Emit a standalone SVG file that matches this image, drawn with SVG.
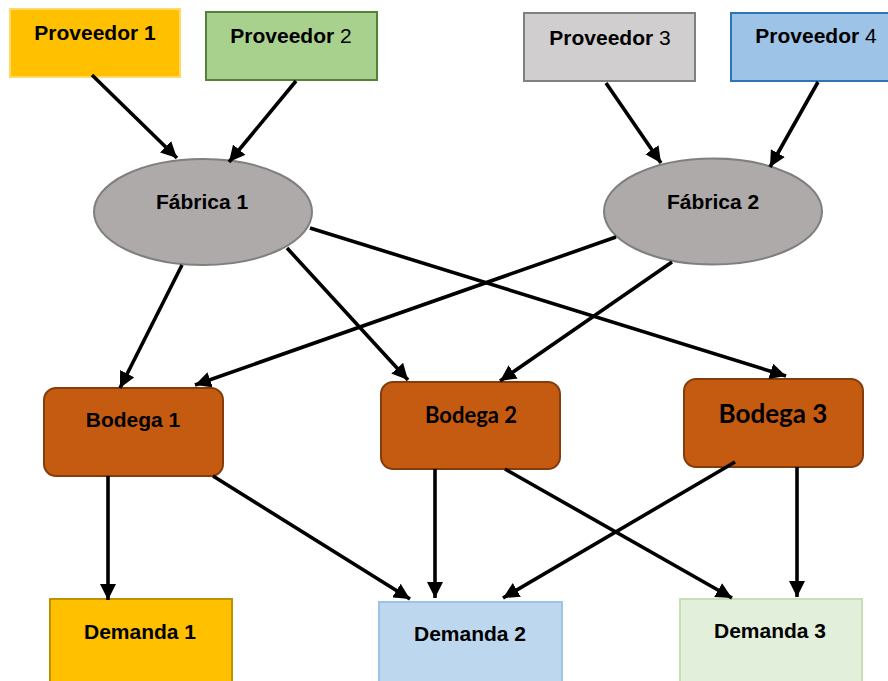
<svg xmlns="http://www.w3.org/2000/svg" width="888" height="681" viewBox="0 0 888 681">
<defs>
<marker id="ah" markerUnits="userSpaceOnUse" markerWidth="18" markerHeight="16" refX="16" refY="8" orient="auto">
<path d="M0,0 L16,8 L0,16 Z" fill="#000"/>
</marker>
<style>
.t{font-family:"Liberation Sans",Arial,sans-serif;font-weight:bold;font-size:21px;fill:#000;text-anchor:middle}
.c{font-family:Lato,"Open Sans",sans-serif;font-weight:bold;fill:#000;text-anchor:middle}
.n{font-weight:normal}
.e{stroke:#000;stroke-width:3.6;fill:none;marker-end:url(#ah)}
</style>
</defs>
<rect width="888" height="681" fill="#fff"/>
<g id="proveedor1"><rect x="10" y="9" width="170" height="68" fill="#FFC000" stroke="#FFD966" stroke-width="2"/><text class="t" x="95" y="40">Proveedor 1</text></g>
<g id="proveedor2"><rect x="206" y="12" width="171" height="68" fill="#A9D18E" stroke="#538135" stroke-width="2"/><text class="t" x="291" y="43">Proveedor <tspan class="n">2</tspan></text></g>
<g id="proveedor3"><rect x="524" y="13" width="171" height="68" fill="#D0CECE" stroke="#808080" stroke-width="2"/><text class="t" x="610" y="45">Proveedor <tspan class="n">3</tspan></text></g>
<g id="proveedor4"><rect x="731" y="13" width="170" height="68" fill="#9DC3E6" stroke="#2E75B6" stroke-width="2"/><text class="t" x="816" y="43">Proveedor <tspan class="n">4</tspan></text></g>
<g id="fabrica1"><ellipse cx="203" cy="212" rx="109" ry="53" fill="#AEAAAA" stroke="#7F7F7F" stroke-width="2"/><text class="t" x="202" y="209">Fábrica 1</text></g>
<g id="fabrica2"><ellipse cx="713" cy="211.5" rx="109" ry="53" fill="#AEAAAA" stroke="#7F7F7F" stroke-width="2"/><text class="t" x="713" y="209">Fábrica 2</text></g>
<g id="bodega1"><rect x="44" y="388" width="179" height="88" rx="12" fill="#C55A11" stroke="#843C0C" stroke-width="2"/><text class="t" x="133" y="427">Bodega 1</text></g>
<g id="bodega2"><rect x="381" y="382" width="179" height="87" rx="12" fill="#C55A11" stroke="#843C0C" stroke-width="2"/><text class="c" x="471" y="423" font-size="22">Bodega 2</text></g>
<g id="bodega3"><rect x="684" y="379" width="179" height="88" rx="12" fill="#C55A11" stroke="#843C0C" stroke-width="2"/><text class="c" x="773" y="423" font-size="26">Bodega 3</text></g>
<g id="demanda1"><rect x="50" y="599" width="182" height="90" fill="#FFC000" stroke="#BF9000" stroke-width="2"/><text class="t" x="140" y="639">Demanda 1</text></g>
<g id="demanda2"><rect x="379" y="602" width="183" height="90" fill="#BDD7EE" stroke="#9DC3E6" stroke-width="2"/><text class="t" x="470" y="641">Demanda 2</text></g>
<g id="demanda3"><rect x="680" y="599" width="182" height="90" fill="#E2EFDA" stroke="#C5E0B4" stroke-width="2"/><text class="t" x="770" y="638">Demanda 3</text></g>
<g id="connectors">
<line class="e" x1="92" y1="75" x2="177" y2="158"/>
<line class="e" x1="296" y1="81" x2="229" y2="162"/>
<line class="e" x1="606" y1="83" x2="661" y2="163"/>
<line class="e" x1="818" y1="82" x2="770" y2="167"/>
<line class="e" x1="182" y1="265" x2="120" y2="388"/>
<line class="e" x1="287" y1="248" x2="408" y2="380"/>
<line class="e" x1="310" y1="228" x2="786" y2="376"/>
<line class="e" x1="616" y1="237" x2="195" y2="385"/>
<line class="e" x1="672" y1="262" x2="500" y2="381"/>
<line class="e" x1="108" y1="476" x2="108" y2="600"/>
<line class="e" x1="213" y1="476" x2="410" y2="599"/>
<line class="e" x1="435" y1="469" x2="435" y2="598"/>
<line class="e" x1="505" y1="469" x2="732" y2="598"/>
<line class="e" x1="735" y1="462" x2="503" y2="598"/>
<line class="e" x1="797" y1="467" x2="797" y2="597"/>
</g>
</svg>
